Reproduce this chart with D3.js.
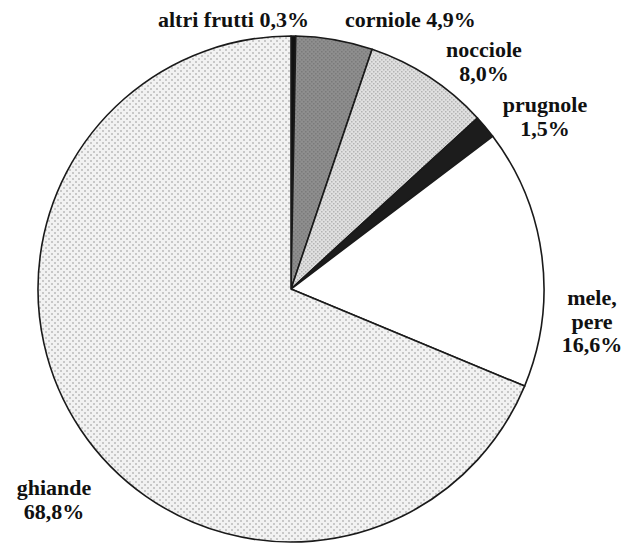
<!DOCTYPE html>
<html>
<head>
<meta charset="utf-8">
<script src="https://cdn.jsdelivr.net/npm/d3@7"></script>
<style>
  html, body { margin: 0; padding: 0; background: #fff; }
  svg { display: block; }
</style>
</head>
<body>
<svg id="chart" width="633" height="545"></svg>
<script>
// Composition of the fruit remains (percent), clockwise from 12 o'clock
const categories = ["altri frutti", "corniole", "nocciole", "prugnole", "mele, pere", "ghiande"];
const values = [0.3, 4.9, 8.0, 1.5, 16.6, 68.8];

const W = 633, H = 545;
const cx = 291, cy = 289, r = 253;

const svg = d3.select("#chart");
const defs = svg.append("defs");

// Halftone-like fills
function dotPattern(id, bg, dot, size, d) {
  const p = defs.append("pattern").attr("id", id)
    .attr("patternUnits", "userSpaceOnUse").attr("width", size).attr("height", size);
  p.append("rect").attr("width", size).attr("height", size).attr("fill", bg);
  p.append("rect").attr("x", 0).attr("y", 0).attr("width", d).attr("height", d).attr("fill", dot);
  p.append("rect").attr("x", size / 2).attr("y", size / 2).attr("width", d).attr("height", d).attr("fill", dot);
}
dotPattern("pGhiande", "#f2f2f2", "#c8c8c8", 6, 2);
dotPattern("pNocciole", "#e0e0e0", "#b4b4b4", 4, 1.5);
dotPattern("pCorniole", "#8e8e8e", "#7a7a7a", 4, 1.5);

const fills = {
  "altri frutti": "#111",
  "corniole": "url(#pCorniole)",
  "nocciole": "url(#pNocciole)",
  "prugnole": "#1c1c1c",
  "mele, pere": "#fff",
  "ghiande": "url(#pGhiande)"
};

const data = categories.map((c, i) => ({ name: c, value: values[i] }));
const pie = d3.pie().sort(null).value(d => d.value);
const arc = d3.arc().innerRadius(0).outerRadius(r);

const g = svg.append("g").attr("transform", `translate(${cx},${cy})`);
g.selectAll("path").data(pie(data)).join("path")
  .attr("d", arc)
  .attr("fill", d => fills[d.data.name])
  .attr("stroke", "#1a1a1a")
  .attr("stroke-width", 1.6)
  .attr("stroke-linejoin", "round");

// Label placement: anchor, x, first baseline, line breaks
const fmt = v => v.toFixed(1).replace(".", ",") + "%";
const labelLayout = {
  "altri frutti": { x: 158, y: 27, anchor: "start", lines: d => [d.name + " " + fmt(d.value)] },
  "corniole":     { x: 345, y: 27, anchor: "start", lines: d => [d.name + " " + fmt(d.value)] },
  "nocciole":     { x: 484, y: 57, anchor: "middle", lines: d => [d.name, fmt(d.value)] },
  "prugnole":     { x: 545, y: 112, anchor: "middle", lines: d => [d.name, fmt(d.value)] },
  "mele, pere":   { x: 592, y: 305, anchor: "middle", lines: d => ["mele,", "pere", fmt(d.value)] },
  "ghiande":      { x: 54, y: 495, anchor: "middle", lines: d => [d.name, fmt(d.value)] }
};
const lh = 23.5;

const labels = svg.append("g")
  .attr("font-family", "Liberation Serif")
  .attr("font-weight", "bold")
  .attr("font-size", 22)
  .attr("fill", "#111");
data.forEach(d => {
  const L = labelLayout[d.name];
  const t = labels.append("text").attr("text-anchor", L.anchor);
  L.lines(d).forEach((line, i) => {
    t.append("tspan").attr("x", L.x).attr("y", L.y + i * lh).text(line);
  });
});
</script>
</body>
</html>
